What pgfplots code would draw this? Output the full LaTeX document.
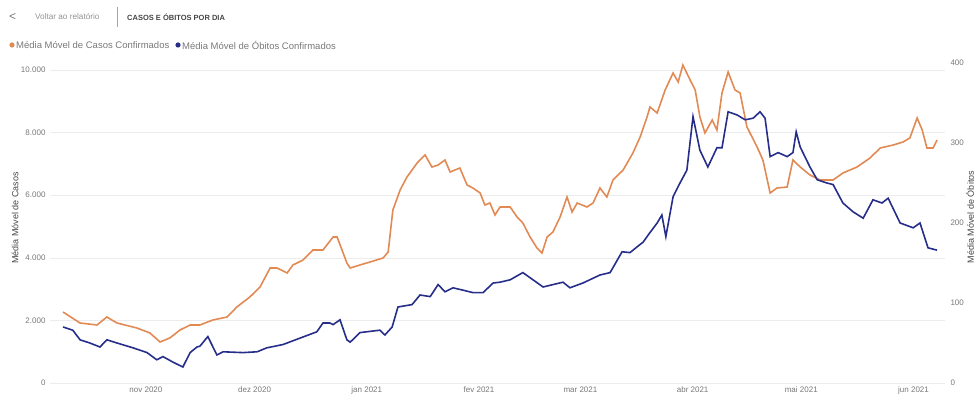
\documentclass[border=0pt]{standalone}
\usepackage{fontspec}
\setmainfont{Liberation Sans}
\usepackage{pgfplots}
\pgfplotsset{compat=1.18}
\definecolor{casos}{RGB}{226,138,84}
\definecolor{obitos}{RGB}{38,46,138}
\definecolor{gridc}{RGB}{236,236,236}
\definecolor{tick}{RGB}{120,120,120}
\definecolor{ttl}{RGB}{70,70,70}
\begin{document}
\begin{tikzpicture}[x=1pt,y=1pt]
\path[use as bounding box] (0,0) rectangle (974,396);
% header
\node[anchor=west, inner sep=0, text=tick, font=\fontsize{12}{12}\selectfont] at (9,379) {<};
\node[anchor=west, inner sep=0, text=tick!80, font=\fontsize{8.2}{9}\selectfont] at (35,379) {Voltar ao relatório};
\draw[gridc!70!black, line width=0.6pt] (117,369) -- (117,389);
\node[anchor=west, inner sep=0, text=ttl, font=\bfseries\fontsize{7.5}{9}\selectfont] at (127,379) {CASOS E ÓBITOS POR DIA};
% legend
\fill[casos] (12,351) circle (2.6);
\node[anchor=west, inner sep=0, text=tick, font=\fontsize{9.5}{10}\selectfont] at (16,351) {Média Móvel de Casos Confirmados};
\fill[obitos] (178,351) circle (2.6);
\node[anchor=west, inner sep=0, text=tick, font=\fontsize{9.5}{10}\selectfont] at (182,351) {Média Móvel de Óbitos Confirmados};
% axis titles
\node[rotate=90, inner sep=0, text=ttl, font=\fontsize{9}{10}\selectfont] at (15,178) {Média Móvel de Casos};
\node[rotate=90, inner sep=0, text=ttl, font=\fontsize{9}{10}\selectfont] at (970,179) {Média Móvel de Óbitos};

\begin{axis}[
  at={(50pt,13pt)}, anchor=south west, scale only axis,
  width=895pt, height=320pt,
  xmin=-26.5, xmax=220.7, ymin=0, ymax=10224,
  axis line style={draw=none},
  major tick length=0pt,
  xtick={0,30,61,92,120,151,181,212},
  xticklabels={nov 2020,dez 2020,jan 2021,fev 2021,mar 2021,abr 2021,mai 2021,jun 2021},
  ytick={0,2000,4000,6000,8000,10000},
  scaled y ticks=false,
  ymajorgrids, grid style={gridc, line width=0.6pt},
  tick label style={text=tick, font=\fontsize{8}{9}\selectfont},
  yticklabel style={xshift=-1pt},
  /pgf/number format/.cd, assume math mode=true, 1000 sep={.},
]
\addplot[casos, line width=1.6pt] coordinates {
(-22.9,2268) (-18.2,1917) (-13.5,1853) (-10.8,2109) (-8.0,1917) (-2.5,1757)
(1.1,1598) (3.9,1310) (6.6,1438) (9.4,1693) (12.2,1853) (14.9,1853)
(18.5,2013) (22.4,2109) (25.1,2428) (28.7,2748) (31.5,3067) (34.3,3674)
(36.2,3674) (39.0,3515) (40.6,3770) (43.4,3930) (46.1,4249) (48.9,4249)
(51.7,4665) (52.8,4665) (55.5,3834) (56.4,3674) (59.1,3770) (61.9,3866)
(65.5,3994) (66.9,4185) (68.2,5527) (70.2,6166) (72.1,6582) (74.9,7029)
(77.1,7285) (79.0,6901) (80.7,6965) (82.6,7125) (84.0,6741) (86.7,6869)
(88.7,6326) (90.3,6230) (92.3,6071) (93.6,5687) (95.0,5751) (96.4,5368)
(97.8,5623) (100.6,5623) (102.5,5304) (104.1,5112) (106.1,4665) (108.0,4313)
(109.4,4154) (110.8,4665) (112.4,4824) (114.4,5304) (116.3,5943) (117.7,5463)
(119.1,5751) (121.8,5623) (123.5,5751) (125.4,6230) (127.3,5943) (129.0,6486)
(131.8,6805) (134.5,7349) (136.5,7860) (138.4,8499) (139.2,8818) (141.2,8627)
(143.4,9361) (145.6,9905) (147.0,9617) (148.3,10160) (150.3,9681) (151.7,9361)
(153.0,8499) (154.4,7988) (156.4,8403) (157.7,8083) (159.1,9266) (160.8,9937)
(162.7,9361) (164.1,9266) (166.0,8179) (168.8,7540) (170.4,7125) (172.4,6071)
(174.3,6230) (177.1,6262) (178.7,7125) (180.7,6901) (183.4,6646) (186.2,6486)
(189.8,6486) (192.5,6710) (196.4,6901) (200.0,7189) (202.8,7508) (206.4,7604)
(209.1,7700) (211.0,7828) (213.0,8467) (214.4,8083) (215.7,7508) (217.4,7508)
(218.5,7764)
};
\end{axis}

\begin{axis}[
  at={(50pt,13pt)}, anchor=south west, scale only axis,
  width=895pt, height=320pt,
  xmin=-26.5, xmax=220.7, ymin=0, ymax=400,
  axis x line=none, axis y line*=right,
  axis line style={draw=none},
  major tick length=0pt,
  ytick={0,100,200,300,400},
  tick label style={text=tick, font=\fontsize{8}{9}\selectfont},
  yticklabel style={xshift=2pt},
  /pgf/number format/.cd, assume math mode=true,
]
\addplot[obitos, line width=1.6pt] coordinates {
(-22.9,70) (-20.2,66) (-18.2,54) (-15.5,50) (-12.7,45) (-10.8,54) (-8.0,50)
(-3.6,44) (0.3,38) (3.0,29) (4.7,33) (7.5,26) (10.2,20) (12.2,38) (14.1,45)
(14.9,46) (17.1,58) (19.6,35) (21.3,39) (26.8,38) (30.7,39) (33.4,44)
(37.8,48) (42.5,56) (47.2,64) (48.9,75) (50.8,75) (51.7,73) (53.6,79)
(55.5,54) (56.4,51) (59.1,63) (64.6,66) (66.0,60) (68.0,70) (69.6,95)
(73.5,98) (75.7,110) (78.5,108) (80.7,123) (82.6,114) (84.8,119) (87.6,116)
(90.3,113) (93.1,113) (95.9,125) (97.8,126) (100.6,129) (104.1,138)
(106.9,129) (109.7,120) (112.4,123) (115.2,126) (117.1,119) (120.7,125)
(125.4,135) (128.2,138) (131.5,164) (133.7,163) (135.6,170) (137.3,176)
(139.2,188) (141.2,200) (142.5,210) (143.6,183) (145.6,233) (147.5,250)
(149.4,266) (151.1,333) (153.0,291) (155.2,270) (157.7,294) (159.1,294)
(160.8,339) (163.3,335) (165.5,329) (167.7,331) (169.6,339) (171.0,331)
(172.4,283) (174.6,288) (177.1,283) (178.7,288) (179.6,314) (180.7,295)
(183.4,270) (185.4,254) (188.1,250) (189.8,248) (192.5,225) (195.3,214)
(198.1,206) (200.8,229) (203.3,225) (205.0,231) (208.3,200) (211.9,194)
(213.8,200) (216.0,169) (218.5,166)
};
\end{axis}
\end{tikzpicture}
\end{document}
